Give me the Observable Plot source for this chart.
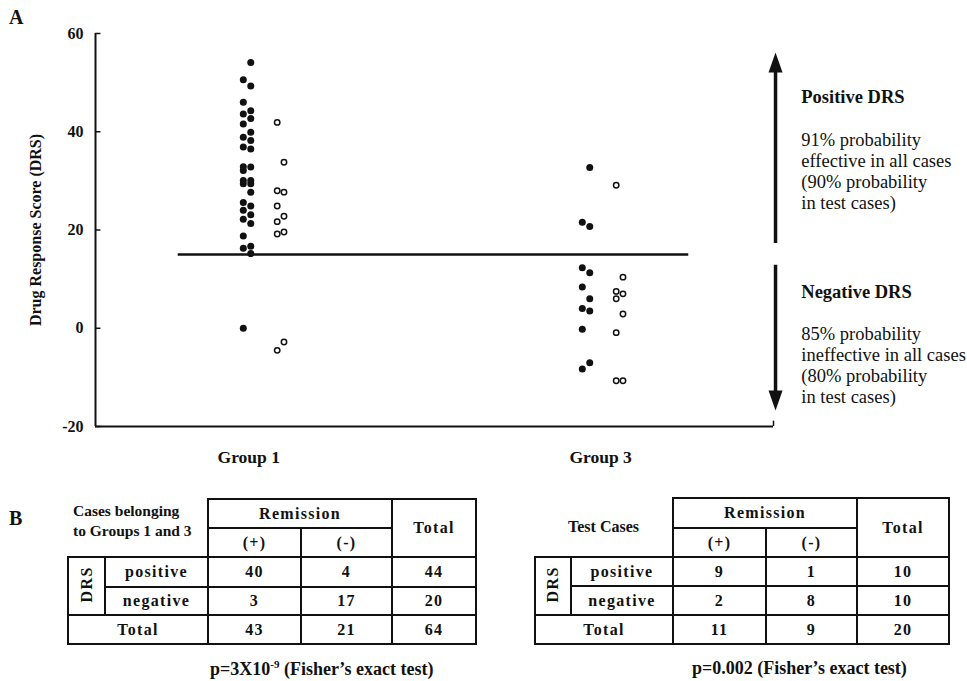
<!DOCTYPE html>
<html><head><meta charset="utf-8">
<script src="https://cdn.jsdelivr.net/npm/d3@7"></script>
<script src="https://cdn.jsdelivr.net/npm/@observablehq/plot@0.6"></script>
<style>
body{margin:0;background:#fff;}
#wrap{position:relative;width:967px;height:681px;font-family:"Liberation Serif","Times New Roman",serif;color:#111;overflow:hidden;}
#chart{position:absolute;left:0;top:0;}
.panel{position:absolute;font-weight:bold;font-size:20px;}
table{position:absolute;border-collapse:collapse;table-layout:fixed;font-weight:bold;font-size:16px;}
td{border:2px solid #111;text-align:center;vertical-align:middle;padding:0;letter-spacing:1.3px;white-space:nowrap;}
td.corner{border:none;}
td.vert span{display:inline-block;writing-mode:vertical-rl;transform:rotate(180deg);letter-spacing:1.5px;}
.cap{position:absolute;font-weight:bold;font-size:18px;white-space:nowrap;}
.cap sup{font-size:11px;}
</style>
</head><body>
<div id="wrap">
  <div id="chart"></div>
  <div class="panel" style="left:9px;top:6px;">A</div>
  <div class="panel" style="left:9px;top:507px;">B</div>
  <table id="t1" style="left:67px;top:498px;width:410px;"></table>
  <table id="t2" style="left:534px;top:497px;width:416px;"></table>
  <div class="cap" style="left:210px;top:658px;">p=3X10<sup>-9</sup> (Fisher’s exact test)</div>
  <div class="cap" style="left:692px;top:658px;">p=0.002 (Fisher’s exact test)</div>
</div>
<script>
// ---------- Panel A data ----------
const yTicks = [-20, 0, 20, 40, 60];
const groupNames = ["Group 1", "Group 3"];
const groupTickX = [22.6, 74.5];
const threshold = 15;
const thresholdSpan = [12.2, 87.5];

// Filled circles
const g1FilledValues = [54.1, 50.6, 49.3, 46.0, 44.3, 43.6, 42.7, 41.6, 39.9, 38.9, 38.2, 36.9, 36.5, 32.9, 32.8, 32.1, 30.1, 30.1, 29.4, 29.4, 27.7, 25.6, 24.9, 24.0, 23.1, 22.2, 21.3, 18.8, 16.3, 16.7, 15.2, 0.0];
const g1FilledCol    = [1,0,1,0,1,0,1,0,1,0,1,0,1,0,1,0,0,1,0,1,1,0,1,0,1,0,1,0,0,1,1,0];
const g3FilledValues = [32.7, 21.6, 20.7, 12.3, 11.3, 8.4, 6.0, 4.0, 3.5, -0.2, -7.0, -8.3];
const g3FilledCol    = [1,0,1,0,1,0,1,0,1,0,1,0];
// Open circles
const g1OpenValues = [41.9, 33.8, 28.0, 27.7, 24.9, 22.8, 21.7, 19.6, 19.2, -2.8, -4.5];
const g1OpenCol    = [0,1,0,1,0,1,0,1,0,1,0];
const g3OpenValues = [29.1, 10.4, 7.5, 7.0, 6.0, 2.9, -0.9, -10.7, -10.7];
const g3OpenCol    = [0,1,0,1,0,1,0,0,1];
// column (jitter) positions on the x scale
const g1FilledColX = [21.8, 22.9];
const g1OpenColX   = [26.8, 27.8];
const g3FilledColX = [71.8, 72.9];
const g3OpenColX   = [76.8, 77.8];

// annotation (right side)
const arrowX = 100.3;
const upArrow = [17.25, 54.1];     // shaft from, head centre
const downArrow = [12.8, -14.7];
const annotX = 104.1;
const annotHeads = ["Positive DRS", "Negative DRS"];
const annotHeadY = [47.0, 7.3];
const annotBodies = [
  "91% probability\neffective in all cases\n(90% probability\nin test cases)",
  "85% probability\nineffective in all cases\n(80% probability\nin test cases)"
];
const annotBodyY = [32.0, -7.5];
const yLabel = "Drug Response Score (DRS)";

function pts(values, cols, colX, kind) {
  return values.map((v, i) => ({x: colX[cols[i]], y: v, kind}));
}
const filled = [...pts(g1FilledValues, g1FilledCol, g1FilledColX, "filled"), ...pts(g3FilledValues, g3FilledCol, g3FilledColX, "filled")];
const open = [...pts(g1OpenValues, g1OpenCol, g1OpenColX, "open"), ...pts(g3OpenValues, g3OpenCol, g3OpenColX, "open")];

const headUp = {draw(ctx) { ctx.moveTo(0, -10); ctx.lineTo(7, 10); ctx.lineTo(-7, 10); ctx.closePath(); }};
const headDown = {draw(ctx) { ctx.moveTo(0, 10); ctx.lineTo(7, -10); ctx.lineTo(-7, -10); ctx.closePath(); }};

const chart = Plot.plot({
  width: 967,
  height: 480,
  marginLeft: 95,
  marginRight: 194,
  marginTop: 33,
  marginBottom: 54,
  style: {fontFamily: "'Liberation Serif', 'Times New Roman', serif", fontSize: "16px", fontWeight: "bold", color: "#111", background: "#fff", overflow: "visible"},
  x: {domain: [0, 100], axis: null},
  y: {domain: [-20, 60], ticks: yTicks, tickFormat: d => String(d), tickSize: 0, tickPadding: 12, label: null},
  marks: [
    Plot.ruleX([0], {stroke: "#111", strokeWidth: 2}),
    Plot.ruleY([-20], {stroke: "#111", strokeWidth: 2}),
    Plot.ruleY(yTicks, {x1: 0, x2: 0.8, stroke: "#111", strokeWidth: 1.5}),
    Plot.ruleX([100], {y1: -20, y2: -18.9, stroke: "#111", strokeWidth: 1.5}),
    Plot.ruleY([threshold], {x1: thresholdSpan[0], x2: thresholdSpan[1], stroke: "#111", strokeWidth: 2.6}),
    Plot.dot(filled, {x: "x", y: "y", r: 3.5, fill: "#111", stroke: null}),
    Plot.dot(open, {x: "x", y: "y", r: 2.7, fill: "#fff", stroke: "#111", strokeWidth: 1.5}),
    Plot.ruleX([arrowX], {y1: upArrow[0], y2: upArrow[1], stroke: "#111", strokeWidth: 3.5}),
    Plot.ruleX([arrowX], {y1: downArrow[0], y2: downArrow[1], stroke: "#111", strokeWidth: 3.5}),
    Plot.dot([upArrow[1]], {x: arrowX, y: d => d, symbol: headUp, fill: "#111", stroke: null}),
    Plot.dot([downArrow[1]], {x: arrowX, y: d => d, symbol: headDown, fill: "#111", stroke: null}),
    Plot.text(groupNames, {x: (d, i) => groupTickX[i], frameAnchor: "bottom", dy: 36, text: d => d, fontSize: 17.5, fontWeight: "bold", fill: "#111"}),
    Plot.text(annotHeads, {x: annotX, y: (d, i) => annotHeadY[i], text: d => d, textAnchor: "start", fontSize: 18.5, fontWeight: "bold", fill: "#111"}),
    Plot.text(annotBodies, {x: annotX, y: (d, i) => annotBodyY[i], text: d => d, textAnchor: "start", fontSize: 18.5, fontWeight: "normal", lineHeight: 1.135, fill: "#111"}),
    Plot.text([yLabel], {frameAnchor: "left", rotate: -90, dx: -60, text: d => d, textAnchor: "middle", fontSize: 16, fontWeight: "bold", fill: "#111"})
  ]
});
document.getElementById("chart").appendChild(chart);

// ---------- Panel B data ----------
const remissionCols = ["(+)", "(-)"];
const drsRows = ["positive", "negative"];
const table1Title = ["Cases belonging", "to Groups 1 and 3"];
const table1Counts = [[40, 4], [3, 17]];
const table1RowTotals = [44, 20];
const table1ColTotals = [43, 21];
const table1Grand = 64;
const table2Title = ["Test Cases"];
const table2Counts = [[9, 1], [2, 8]];
const table2RowTotals = [10, 10];
const table2ColTotals = [11, 9];
const table2Grand = 20;

function buildTable(el, title, titleAlign, counts, rowTotals, colTotals, grand, colW, rowH) {
  let h = "<colgroup>" + colW.map(w => `<col style="width:${w}px">`).join("") + "</colgroup>";
  const titleStyle = titleAlign === "left"
    ? "text-align:left;vertical-align:top;padding:2px 0 0 5px;letter-spacing:0;line-height:20px;font-size:15.5px;"
    : "text-align:center;letter-spacing:0;font-size:16px;";
  h += `<tr style="height:${rowH[0]}px"><td class="corner" colspan="2" rowspan="2" style="${titleStyle}">${title.join("<br>")}</td><td colspan="2">Remission</td><td rowspan="2">Total</td></tr>`;
  h += `<tr style="height:${rowH[1]}px">${remissionCols.map(c => `<td>${c}</td>`).join("")}</tr>`;
  drsRows.forEach((r, i) => {
    h += `<tr style="height:${rowH[2 + i]}px">`;
    if (i === 0) h += `<td class="vert" rowspan="2"><span>DRS</span></td>`;
    h += `<td>${r}</td>${counts[i].map(v => `<td>${v}</td>`).join("")}<td>${rowTotals[i]}</td></tr>`;
  });
  h += `<tr style="height:${rowH[4]}px"><td colspan="2">Total</td>${colTotals.map(v => `<td>${v}</td>`).join("")}<td>${grand}</td></tr>`;
  el.innerHTML = h;
}
buildTable(document.getElementById("t1"), table1Title, "left", table1Counts, table1RowTotals, table1ColTotals, table1Grand, [37,103,93,91,84], [29,29,30,28,29]);
buildTable(document.getElementById("t2"), table2Title, "center", table2Counts, table2RowTotals, table2ColTotals, table2Grand, [36,102,93,91,92], [30,29,29,29,29]);
</script>
</body></html>
